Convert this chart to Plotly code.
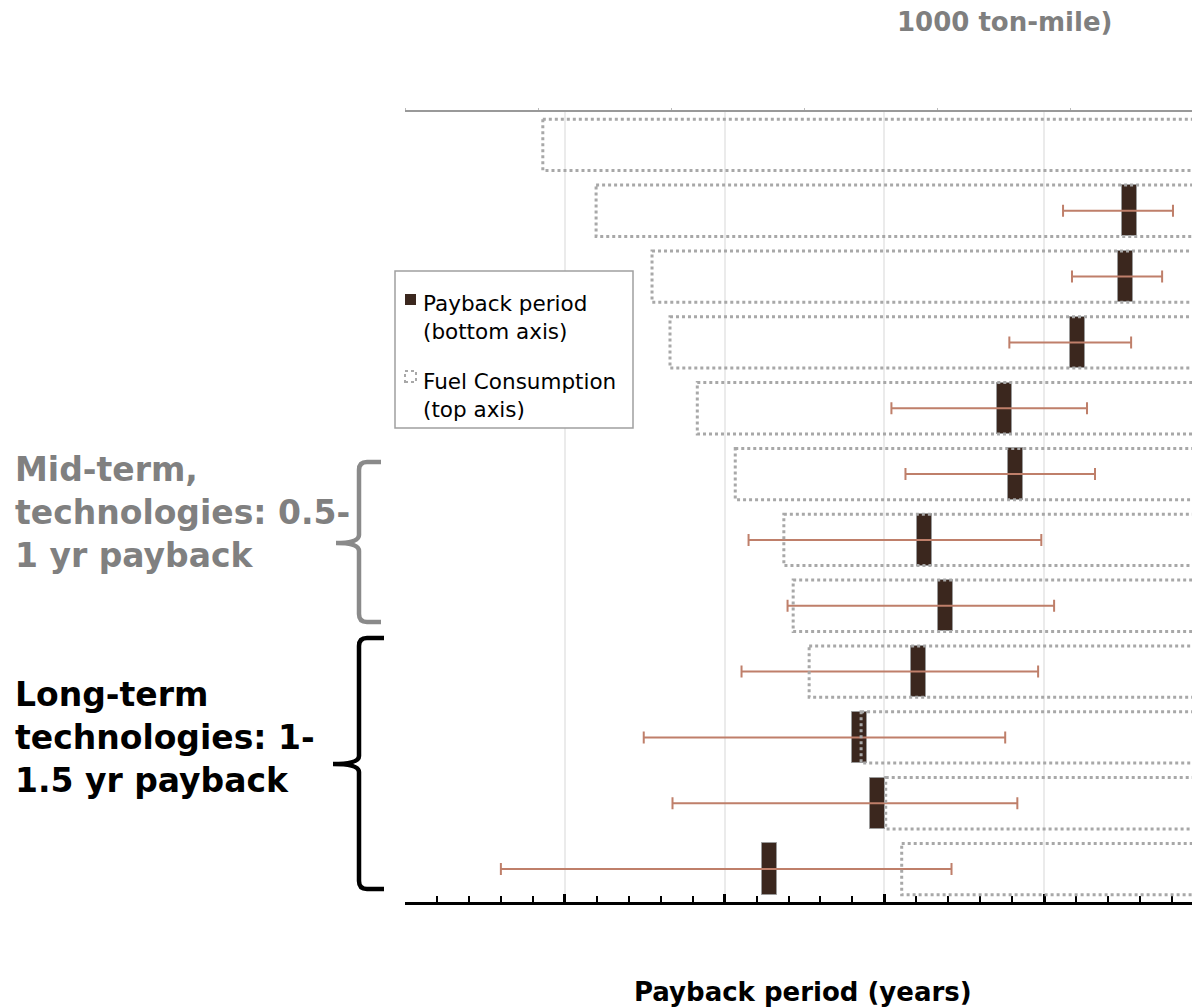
import plotly.graph_objects as go

# ---------------- data ----------------
rows = ["T1", "T2", "T3", "T4", "T5", "T6", "T7", "T8", "T9", "T10", "T11", "T12"]
# payback period (years, bottom axis)
payback = [None, 0.234, 0.247, 0.397, 0.625, 0.591, 0.875, 0.809, 0.894, 1.078, 1.022, 1.359]
payback_high = [None, 0.441, 0.413, 0.609, 0.978, 0.934, 1.425, 1.303, 1.447, 1.753, 1.663, 2.200]
payback_low = [None, 0.097, 0.131, 0.228, 0.366, 0.341, 0.509, 0.469, 0.519, 0.622, 0.584, 0.790]
# fuel consumption (gal / 1000 ton-mile, top axis)
fuel = [9.93, 9.13, 8.29, 8.02, 7.61, 7.04, 6.31, 6.17, 5.93, 5.15, 4.78, 4.54]

# ---------------- style ----------------
W, H = 1192, 1008
L, R, T, B = 405, 0, 112, 106
FONT = "DejaVu Sans"
BAR_COLOR = "#3b271e"
ERR_COLOR = "#bf7f6a"
BOX_COLOR = "#a8a8a8"
GRAY_TXT = "#808080"
BAR_W = 0.047          # visual width of the payback marker bar (years)
ROW_H = 0.78

def pxx(x):
    return (x - L) / (W - L - R)

def pxy(y):
    return (H - B - y) / (H - T - B)

ypos = list(range(len(rows)))

fig = go.Figure()

# payback bars
bx, by, bb = [], [], []
for i, p in enumerate(payback):
    if p is not None:
        bx.append(BAR_W)
        by.append(ypos[i])
        bb.append(p - BAR_W / 2)
fig.add_trace(go.Bar(
    x=bx, y=by, base=bb, orientation="h", width=ROW_H,
    marker=dict(color=BAR_COLOR, line=dict(color="#9a9a9a", width=1)),
    showlegend=False, xaxis="x", yaxis="y", hoverinfo="skip"))

# error bars (drawn on top of the bars)
ex, ey, eplus, eminus = [], [], [], []
for i, p in enumerate(payback):
    if p is not None:
        ex.append(p)
        ey.append(ypos[i])
        eplus.append(payback_high[i] - p)
        eminus.append(p - payback_low[i])
fig.add_trace(go.Scatter(
    x=ex, y=ey, mode="markers",
    marker=dict(size=1, color="rgba(0,0,0,0)"),
    error_x=dict(type="data", symmetric=False, array=eplus, arrayminus=eminus,
                 color=ERR_COLOR, thickness=2, width=6),
    showlegend=False, xaxis="x", yaxis="y", hoverinfo="skip"))

# dummy trace to activate top axis
fig.add_trace(go.Scatter(x=[fuel[0]], y=[0], mode="markers",
                         marker=dict(size=1, color="rgba(0,0,0,0)"),
                         xaxis="x2", yaxis="y", showlegend=False, hoverinfo="skip"))

shapes = []
# fuel consumption dotted boxes (top axis, drawn from 0 to value)
for i, f in enumerate(fuel):
    shapes.append(dict(type="rect", xref="x2", yref="y",
                       x0=f, x1=0, y0=ypos[i] - ROW_H / 2, y1=ypos[i] + ROW_H / 2,
                       line=dict(color=BOX_COLOR, width=3, dash="dot"),
                       fillcolor="rgba(0,0,0,0)", layer="above"))

# legend box
shapes.append(dict(type="rect", xref="paper", yref="paper",
                   x0=pxx(395), x1=pxx(633), y0=pxy(428), y1=pxy(271),
                   line=dict(color="#a0a0a0", width=1.5), fillcolor="white", layer="above"))
shapes.append(dict(type="rect", xref="paper", yref="paper",
                   x0=pxx(405), x1=pxx(416), y0=pxy(305), y1=pxy(294),
                   line=dict(color=BAR_COLOR, width=0), fillcolor=BAR_COLOR, layer="above"))
shapes.append(dict(type="rect", xref="paper", yref="paper",
                   x0=pxx(405), x1=pxx(416), y0=pxy(382), y1=pxy(371),
                   line=dict(color=BOX_COLOR, width=2, dash="dot"),
                   fillcolor="rgba(0,0,0,0)", layer="above"))

# braces
def brace(xv, xs, xt, top, mid, bot):
    r = 8
    pts = [
        f"M {pxx(xs)},{pxy(top)}",
        f"L {pxx(xv + r)},{pxy(top)}",
        f"Q {pxx(xv)},{pxy(top)} {pxx(xv)},{pxy(top + r)}",
        f"L {pxx(xv)},{pxy(mid - r)}",
        f"Q {pxx(xv)},{pxy(mid)} {pxx(xt)},{pxy(mid)}",
        f"Q {pxx(xv)},{pxy(mid)} {pxx(xv)},{pxy(mid + r)}",
        f"L {pxx(xv)},{pxy(bot - r)}",
        f"Q {pxx(xv)},{pxy(bot)} {pxx(xv + r)},{pxy(bot)}",
        f"L {pxx(xs)},{pxy(bot)}",
    ]
    return " ".join(pts)

shapes.append(dict(type="path", xref="paper", yref="paper",
                   path=brace(359, 381, 336, 462, 543, 622),
                   line=dict(color="#8a8a8a", width=4.5)))
shapes.append(dict(type="path", xref="paper", yref="paper",
                   path=brace(359, 384, 333, 638, 764, 889),
                   line=dict(color="black", width=4.5)))

annotations = [
    dict(text="Payback period<br>(bottom axis)", x=pxx(421), y=pxy(317),
         xref="paper", yref="paper", xanchor="left", yanchor="middle", align="left",
         showarrow=False, font=dict(family=FONT, size=21.5, color="black")),
    dict(text="Fuel Consumption<br>(top axis)", x=pxx(421), y=pxy(395),
         xref="paper", yref="paper", xanchor="left", yanchor="middle", align="left",
         showarrow=False, font=dict(family=FONT, size=21.5, color="black")),
    dict(text="Mid-term,<br>technologies: 0.5-<br>1 yr payback", x=pxx(13), y=pxy(512),
         xref="paper", yref="paper", xanchor="left", yanchor="middle", align="left",
         showarrow=False, font=dict(family=FONT, size=33, color=GRAY_TXT, weight="bold")),
    dict(text="Long-term<br>technologies: 1-<br>1.5 yr payback", x=pxx(13), y=pxy(737),
         xref="paper", yref="paper", xanchor="left", yanchor="middle", align="left",
         showarrow=False, font=dict(family=FONT, size=33, color="black", weight="bold")),
    dict(text="Payback period (years)", x=pxx(803), y=pxy(992),
         xref="paper", yref="paper", xanchor="center", yanchor="middle",
         showarrow=False, font=dict(family=FONT, size=26, color="black", weight="bold")),
    dict(text="1000 ton-mile)", x=pxx(1004), y=pxy(22),
         xref="paper", yref="paper", xanchor="center", yanchor="middle",
         showarrow=False, font=dict(family=FONT, size=26, color="#7f7f7f", weight="bold")),
]

fig.update_layout(
    width=W, height=H,
    margin=dict(l=L, r=R, t=T, b=B, pad=0),
    paper_bgcolor="white", plot_bgcolor="white",
    showlegend=False,
    bargap=0,
    hovermode=False,
    xaxis=dict(range=[2.5, 0.0375], dtick=0.5, tick0=0,
               showline=True, linecolor="black", linewidth=3,
               ticks="inside", ticklen=8, tickwidth=3, tickcolor="black",
               minor=dict(dtick=0.1, ticks="inside", ticklen=6, tickwidth=2,
                          tickcolor="black", showgrid=False),
               showgrid=True, gridcolor="#ebebeb", gridwidth=2,
               showticklabels=False, zeroline=False),
    xaxis2=dict(range=[12, 0.18], dtick=2, tick0=0, overlaying="x", side="top",
                showline=True, linecolor="#999999", linewidth=2,
                ticks="outside", ticklen=2, tickwidth=1, tickcolor="#bbbbbb",
                showgrid=False, showticklabels=False, zeroline=False),
    yaxis=dict(range=[len(rows) - 0.5, -0.5], showticklabels=False, showgrid=False,
               zeroline=False, showline=False, ticks=""),
    shapes=shapes,
    annotations=annotations,
)

fig.write_html(
    "out.html",
    config={"displayModeBar": False},
    post_script="document.body.style.margin='0';document.body.style.overflow='hidden';",
)
